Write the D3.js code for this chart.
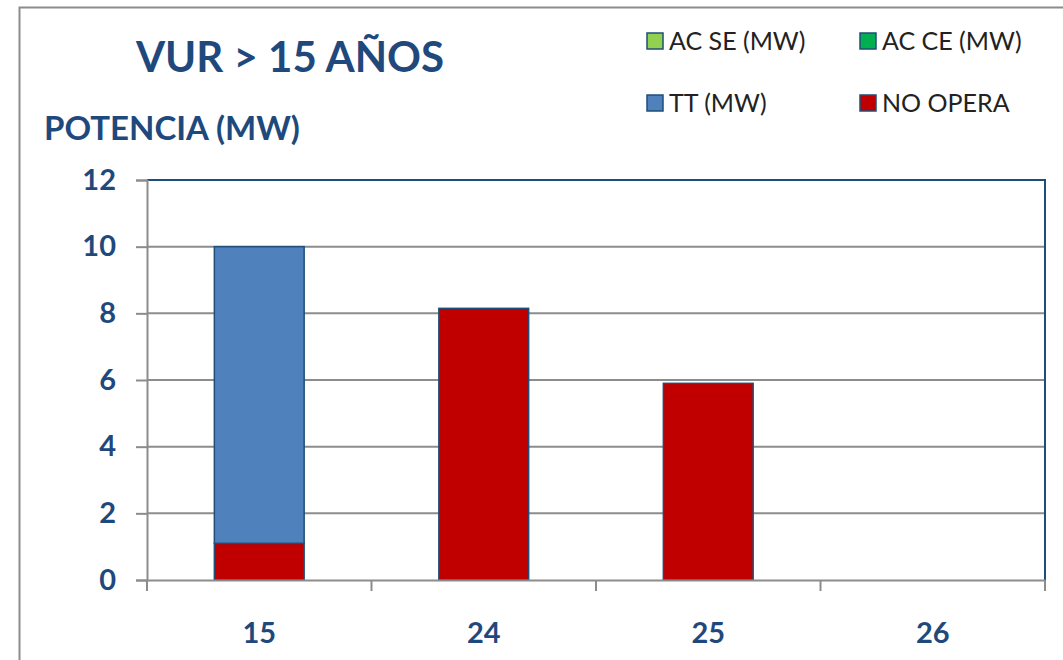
<!DOCTYPE html>
<html><head><meta charset="utf-8">
<script src="https://cdn.jsdelivr.net/npm/d3@7"></script>
<style>body{margin:0;background:#fff;} text{font-family:Lato,"Open Sans",sans-serif;}</style>
</head><body><svg id="c" width="1063" height="660"></svg>
<script>
const categories = ["15","24","25","26"];
const seriesNames = ["NO OPERA","TT (MW)","AC SE (MW)","AC CE (MW)"];
const noOpera = [1.1, 8.15, 5.9, 0];
const tt = [8.9, 0, 0, 0];
const acSE = [0, 0, 0, 0];
const acCE = [0, 0, 0, 0];
const yTicks = [0,2,4,6,8,10,12];
const legendItems = ["AC SE (MW)","AC CE (MW)","TT (MW)","NO OPERA"];
const colors = {"AC SE (MW)":"#92D050","AC CE (MW)":"#00B050","TT (MW)":"#4F81BD","NO OPERA":"#C00000"};

const svg = d3.select("#c");
const L=147,R=1045,T=180,B=580;
const textCol="#1F497D";

// outer frame
svg.append("rect").attr("x",19.5).attr("y",7.5).attr("width",1100).attr("height",700)
  .attr("fill","none").attr("stroke","#8c8c8c").attr("stroke-width",2);

const x = d3.scaleBand().domain(categories).range([L,R]).paddingInner(0.6).paddingOuter(0.3);
const xb = d3.scaleBand().domain(categories).range([L,R]);
const y = d3.scaleLinear().domain([0,12]).range([B,T]);

// gridlines
svg.append("g").selectAll("line").data(yTicks.filter(d=>d>0&&d<12)).join("line")
  .attr("x1",L).attr("x2",R).attr("y1",d=>y(d)).attr("y2",d=>y(d))
  .attr("stroke","#8c8c8c").attr("stroke-width",2);

// stacked data
const rows = categories.map((c,i)=>({cat:c,"NO OPERA":noOpera[i],"TT (MW)":tt[i],"AC SE (MW)":acSE[i],"AC CE (MW)":acCE[i]}));
const stack = d3.stack().keys(seriesNames)(rows);
svg.append("g").selectAll("g").data(stack).join("g").attr("fill",d=>colors[d.key])
  .selectAll("rect").data(d=>d.filter(p=>p[1]-p[0]>0)).join("rect")
  .attr("x",d=>x(d.data.cat)).attr("width",x.bandwidth())
  .attr("y",d=>y(d[1])).attr("height",d=>y(d[0])-y(d[1]))
  .attr("stroke","#1F4E79").attr("stroke-width",1.5);

// plot border top & right
svg.append("path").attr("d",`M${L},${T}H${R}V${B}`).attr("fill","none").attr("stroke","#1F4E79").attr("stroke-width",2);

// y axis
const ya = svg.append("g").attr("transform",`translate(${L},0)`)
  .call(d3.axisLeft(y).tickValues(yTicks).tickSize(11).tickPadding(20));
ya.select(".domain").attr("stroke","#8c8c8c").attr("stroke-width",2);
ya.selectAll(".tick line").attr("stroke","#8c8c8c").attr("stroke-width",2);
ya.selectAll(".tick text").attr("fill",textCol).attr("font-size",29).attr("font-weight","bold")
  .attr("font-family","Lato, sans-serif");

// x axis
const xa = svg.append("g").attr("transform",`translate(0,${B})`)
  .call(d3.axisBottom(xb).tickSize(0).tickPadding(0));
xa.select(".domain").attr("stroke","#8c8c8c").attr("stroke-width",2);
xa.selectAll(".tick text").attr("fill",textCol).attr("font-size",29).attr("font-weight","bold")
  .attr("font-family","Lato, sans-serif").attr("dy",0).attr("y",63);
// category boundary ticks
svg.append("g").selectAll("line").data(categories.map(c=>xb(c)).concat([R])).join("line")
  .attr("x1",d=>d).attr("x2",d=>d).attr("y1",B).attr("y2",B+11)
  .attr("stroke","#8c8c8c").attr("stroke-width",2);

// titles
svg.append("text").attr("x",290).attr("y",72).attr("text-anchor","middle")
  .attr("fill",textCol).attr("font-size",42).attr("font-weight","bold").text("VUR > 15 AÑOS");
svg.append("text").attr("x",44).attr("y",140)
  .attr("fill",textCol).attr("font-size",33).attr("font-weight","bold").text("POTENCIA (MW)");

// legend
const lpos = [[647,33],[860,33],[647,95],[860,95]];
const lg = svg.append("g").selectAll("g").data(legendItems).join("g")
  .attr("transform",(d,i)=>`translate(${lpos[i][0]},${lpos[i][1]})`);
lg.append("rect").attr("width",16).attr("height",16).attr("fill",d=>colors[d]).attr("stroke","#1F4E79").attr("stroke-width",1.5);
lg.append("text").attr("x",22).attr("y",17).attr("font-size",25).attr("fill","#222").text(d=>d);
</script></body></html>
